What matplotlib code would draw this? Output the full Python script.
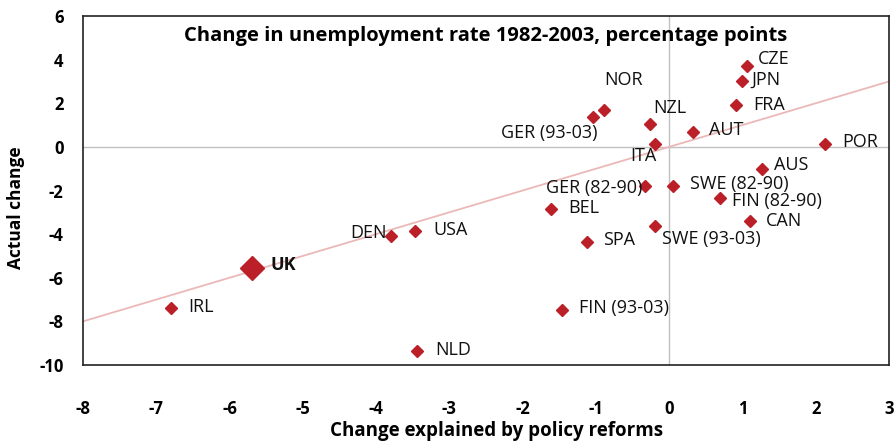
import numpy as np
import matplotlib
matplotlib.use('Agg')
import matplotlib.pyplot as plt

# country data: change explained by policy reforms vs actual change
countries = ['CZE', 'JPN', 'FRA', 'NOR', 'GER (93-03)', 'NZL', 'AUT', 'ITA', 'POR',
             'AUS', 'GER (82-90)', 'SWE (82-90)', 'FIN (82-90)', 'BEL', 'CAN',
             'SWE (93-03)', 'SPA', 'DEN', 'USA', 'UK', 'IRL', 'NLD', 'FIN (93-03)']
explained = [1.06, 0.99, 0.91, -0.89, -1.04, -0.26, 0.32, -0.19, 2.13,
             1.27, -0.33, 0.05, 0.70, -1.61, 1.10,
             -0.20, -1.12, -3.79, -3.47, -5.70, -6.80, -3.44, -1.46]
actual = [3.73, 3.04, 1.92, 1.69, 1.38, 1.07, 0.69, 0.15, 0.15,
          -1.03, -1.80, -1.80, -2.36, -2.87, -3.41,
          -3.64, -4.36, -4.10, -3.87, -5.56, -7.37, -9.35, -7.48]

trend_x = [-8, 3]
trend_y = [-8, 3]

# label offsets in pixels (dx, dy) and horizontal alignment
label_pos = {
    'CZE': (11, 7, 'left'), 'JPN': (10, 1, 'left'), 'FRA': (17, 0, 'left'),
    'NOR': (0, 30, 'left'), 'GER (93-03)': (5, -16, 'right'), 'NZL': (3, 16, 'left'),
    'AUT': (16, 2, 'left'), 'ITA': (1, -12, 'right'), 'POR': (17, 2, 'left'),
    'AUS': (12, 4, 'left'), 'GER (82-90)': (-3, -2, 'right'), 'SWE (82-90)': (17, 2, 'left'),
    'FIN (82-90)': (12, -3, 'left'), 'BEL': (17, 1, 'left'), 'CAN': (16, 0, 'left'),
    'SWE (93-03)': (7, -13, 'left'), 'SPA': (16, 2, 'left'), 'DEN': (-5, 3, 'right'),
    'USA': (18, 1, 'left'), 'UK': (19, 3, 'left'), 'IRL': (17, 1, 'left'),
    'NLD': (18, 1, 'left'), 'FIN (93-03)': (17, 2, 'left'),
}

plt.rcParams['font.family'] = ['Open Sans', 'DejaVu Sans']
plt.rcParams['axes.unicode_minus'] = False
red = '#bb1f28'

fig = plt.figure(figsize=(8.96, 4.43), dpi=100)
ax = fig.add_axes([83 / 896, 78 / 443, 806 / 896, 349 / 443])

ax.axhline(0, color='#c0c0c0', lw=1, zorder=1)
ax.axvline(0, color='#c0c0c0', lw=1, zorder=1)
ax.plot(trend_x, trend_y, color='#ebb8b8', lw=1.3, zorder=2)

for c, x, y in zip(countries, explained, actual):
    big = c == 'UK'
    ax.plot(x, y, marker='D', ls='none', color=red, ms=12 if big else 6.5, mec=red, zorder=3)
    dx, dy, ha = label_pos[c]
    ax.annotate(c, (x, y), xytext=(dx, dy), textcoords='offset pixels', ha=ha, va='center',
                fontsize=13, fontweight='bold' if big else 'normal', color='#111111')

ax.set_xlim(-8, 3)
ax.set_ylim(-10, 6)
ax.set_xticks(np.arange(-8, 4, 1))
ax.set_yticks(np.arange(-10, 7, 2))
ax.tick_params(axis='both', length=0, labelsize=12)
ax.tick_params(axis='x', pad=25)
ax.tick_params(axis='y', pad=14)
for lab in ax.get_xticklabels() + ax.get_yticklabels():
    lab.set_fontweight('bold')
for s in ax.spines.values():
    s.set_linewidth(1.2)
    s.set_color('#222222')

ax.set_title('Change in unemployment rate 1982-2003, percentage points', fontsize=14.5,
             fontweight='bold', y=0.905)
ax.set_xlabel('Change explained by policy reforms', fontsize=13.5, fontweight='bold')
ax.set_ylabel('Actual change', fontsize=12.5, fontweight='bold')
ax.xaxis.set_label_coords(0.5 + 11 / 806, -0.16)
ax.yaxis.set_label_coords(-0.072, 0.45)

fig.savefig('out.png', dpi=100)
